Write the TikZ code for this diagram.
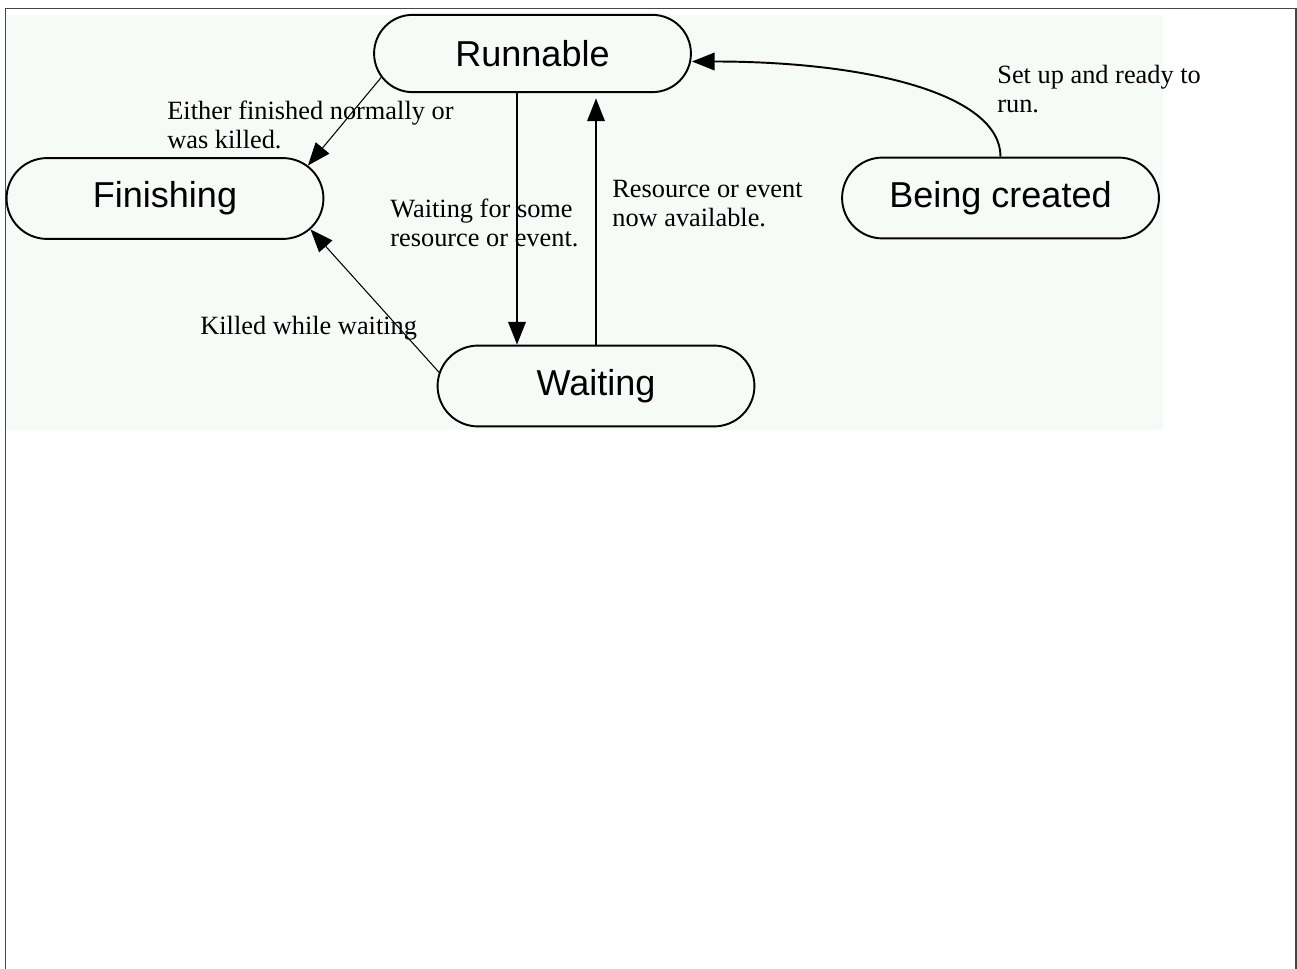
\documentclass[tikz,border=0pt]{standalone}
\usepackage{fontspec}
\setmainfont{Liberation Serif}
\newfontfamily\statefont{Liberation Sans}
\usetikzlibrary{arrows.meta,shapes.misc,calc}
\definecolor{paleback}{RGB}{246,251,247}
\definecolor{framegray}{RGB}{70,70,70}
\tikzset{
  procstate/.style={draw=black, line width=1.1pt, rounded rectangle,
    minimum width=187pt, minimum height=46pt,
    font=\statefont\fontsize{20.5}{24}\selectfont},
  trans/.style={-{Triangle[length=13pt,width=10pt]}, line width=1.1pt},
  thin trans/.style={trans, line width=0.6pt},
  translabel/.style={inner sep=0pt, align=left, font=\fontsize{15}{16.5}\selectfont},
}
\begin{document}
\begin{tikzpicture}[x=0.02cm, y=-0.02cm]
    \useasboundingbox (0,0) rectangle (1297,969);
    \fill[paleback] (6,15) rectangle (1163,430);
    \draw[framegray, line width=1.1pt] (5.5,969) -- (5.5,8.5) -- (1296,8.5) -- (1296,969);
    % states
    \node[procstate, minimum height=44pt] (run) at (532.5,53.5) {Runnable};
    \node[procstate] (fin) at (165,198.5) {Finishing};
    \node[procstate] (bc) at (1000.5,198) {Being created};
    \node[procstate] (wait) at (596,386) {Waiting};
    % transitions
    \coordinate (down) at ($(run.south)+(-15.5,0)$);
    \draw[trans] (down) -- (down |- wait.north);
    \draw[trans, shorten >=3pt] (wait.north) -- (wait.north |- run.south);
    \draw[thin trans] (run.189) -- (fin.13);
    \draw[thin trans] (wait.175) -- (fin.348);
    \draw[trans] (bc.north) .. controls ($(bc.north)+(0,-62)$) and ($(run.east)+(178,8)$) .. ($(run.east)+(0,8)$);
    % labels
    \node[translabel, anchor=north west] (lblfin) at (167,101) {Either finished normally or\\was killed.};
    \node[translabel, anchor=north west] (lblwait) at (390,199) {Waiting for some\\resource or event.};
    \node[translabel, anchor=north west] (lblready) at (612,180) {Resource or event\\now available.};
    \node[translabel, anchor=base west] (lblkill) at (200,335) {Killed while waiting};
    \node[translabel, anchor=north west] (lblsetup) at (997,65) {Set up and ready to\\run.};
\end{tikzpicture}
\end{document}
